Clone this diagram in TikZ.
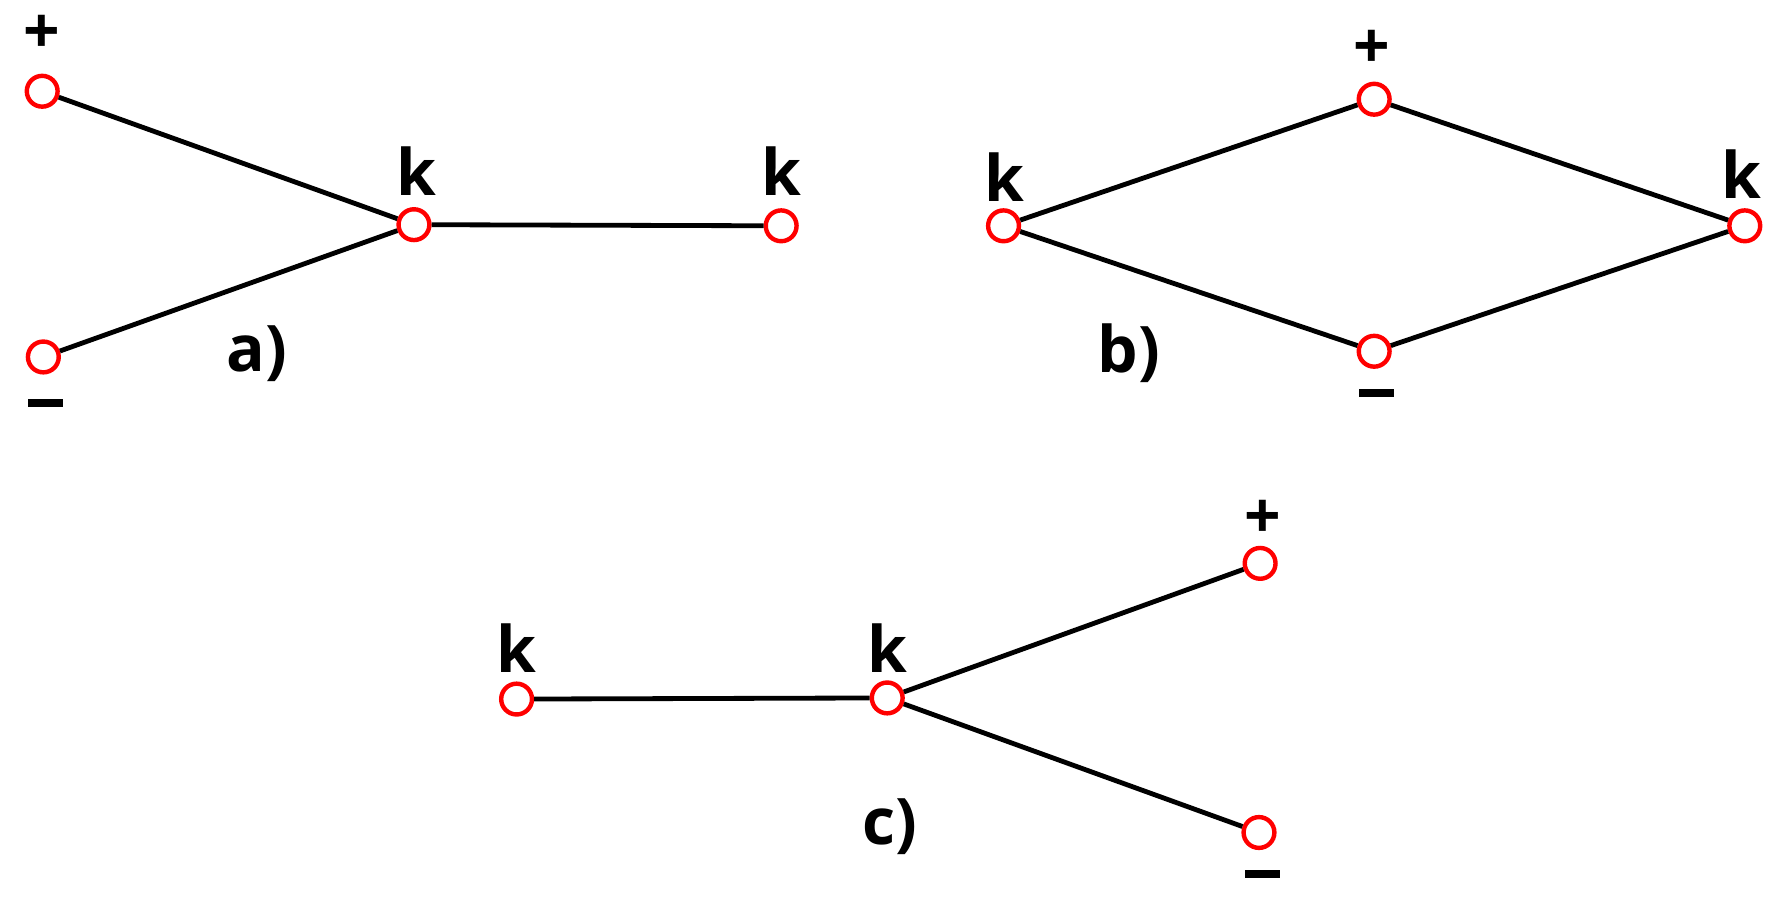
\documentclass[tikz,border=0pt]{standalone}
\usepackage{fontspec}
\setmainfont{Open Sans}
\begin{document}
\begin{tikzpicture}[x=0.01cm,y=-0.01cm,
  term/.style={circle,draw=red,line width=1.1pt,fill=white,minimum size=0.27cm,inner sep=0pt},
  lbl/.style={font=\fontsize{16}{16}\selectfont\bfseries,inner sep=0pt},
  mns/.style={fill=black,minimum width=0.3cm,minimum height=0.07cm,inner sep=0pt},
  wire/.style={line width=1.2pt,black}]
\useasboundingbox (0,0) rectangle (1560,793);
% a
\node[term] (ap) at (37,80) {};
\node[term] (am) at (38,313) {};
\node[term] (ac) at (363,197) {};
\node[term] (ar) at (685,198) {};
\draw[wire] (ap) -- (ac) (am) -- (ac) (ac) -- (ar);
\node[lbl] (apl) at (37,30) {+};
\node[mns] (aml) at (40,353) {};
\node[lbl] (acl) at (365,150) {k};
\node[lbl] (arl) at (685,150) {k};
\node[lbl] (al) at (225,310) {a)};
% b
\node[term] (bl) at (880,198) {};
\node[term] (bt) at (1205,87) {};
\node[term] (bb) at (1205,308) {};
\node[term] (br) at (1530,198) {};
\draw[wire] (bl) -- (bt) -- (br) -- (bb) -- (bl);
\node[lbl] (bll) at (881,155) {k};
\node[lbl] (btl) at (1203,43) {+};
\node[mns] (bbl) at (1207,345) {};
\node[lbl] (brl) at (1527,153) {k};
\node[lbl] (blab) at (990,310) {b)};
% c
\node[term] (cl) at (453,613) {};
\node[term] (cc) at (778,612) {};
\node[term] (ct) at (1105,494) {};
\node[term] (cb) at (1104,730) {};
\draw[wire] (cl) -- (cc) -- (ct) (cc) -- (cb);
\node[lbl] (cll) at (453,568) {k};
\node[lbl] (ccl) at (778,568) {k};
\node[lbl] (ctl) at (1107,455) {+};
\node[mns] (cbl) at (1107,766) {};
\node[lbl] (clab) at (780,725) {c)};
\end{tikzpicture}
\end{document}
